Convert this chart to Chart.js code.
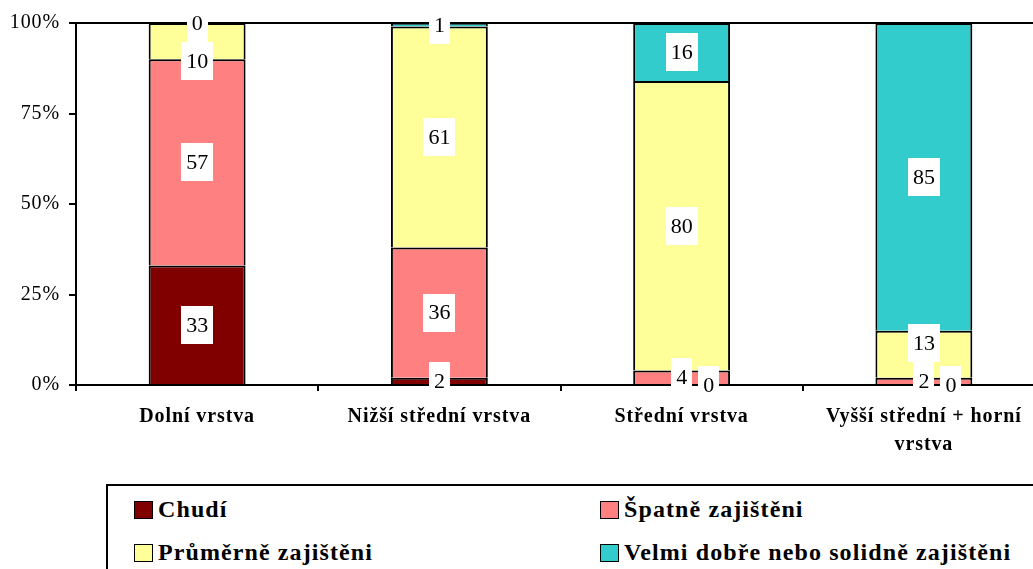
<!DOCTYPE html>
<html>
<head>
<meta charset="utf-8">
<script src="https://cdn.jsdelivr.net/npm/chart.js@4"></script>
<style>
  html, body { margin: 0; padding: 0; background: #fff; overflow: hidden; width: 1033px; height: 569px; }
  #wrap { position: absolute; left: 0; top: 0; width: 1060px; height: 480px; }
  #legend { position: absolute; left: 106px; top: 484px; width: 1000px; height: 120px;
    border: 2px solid #000; box-sizing: border-box; font-family: 'Liberation Serif', serif;
    font-weight: bold; font-size: 24px; letter-spacing: 1.1px; color: #000; }
  .item { position: absolute; display: flex; align-items: center; white-space: nowrap; }
  .sw { width: 17px; height: 16px; border: 1.5px solid #000; margin-right: 5px; }
</style>
</head>
<body>
<div id="wrap"><canvas id="c" width="1060" height="480"></canvas></div>
<div id="legend"></div>
<script>
const categories = ['Dolní vrstva', 'Nižší střední vrstva', 'Střední vrstva', ['Vyšší střední + horní', 'vrstva']];
const seriesNames = ['Chudí', 'Špatně zajištěni', 'Průměrně zajištěni', 'Velmi dobře nebo solidně zajištěni'];
const chudi = [33, 2, 0, 0];
const spatne = [57, 36, 4, 2];
const prumerne = [10, 61, 80, 13];
const velmi = [0, 1, 16, 85];
const yTicks = [0, 25, 50, 75, 100];
const colors = ['#800000', '#FF8080', '#FFFF99', '#33CCCC'];

const FONT = "'Liberation Serif', serif";
const seriesValues = [chudi, spatne, prumerne, velmi];
Chart.defaults.font.family = FONT;

const spacingPlugin = {
  id: 'spacing',
  beforeDraw(chart) { chart.ctx.letterSpacing = '0.9px'; },
  afterDraw(chart) { chart.ctx.letterSpacing = '0px'; }
};

const labelPlugin = {
  id: 'boxLabels',
  afterDatasetsDraw(chart) {
    const ctx = chart.ctx;
    ctx.save();
    ctx.letterSpacing = '0px';
    ctx.font = '22px ' + FONT;
    ctx.textAlign = 'center';
    ctx.textBaseline = 'middle';
    const H = 38;
    for (let i = 0; i < categories.length; i++) {
      const labs = [];
      chart.data.datasets.forEach((ds, d) => {
        const el = chart.getDatasetMeta(d).data[i];
        const txt = String(ds.data[i]);
        const w = ctx.measureText(txt).width + 10;
        labs.push({ x: el.x, y: (el.y + el.base) / 2, w, v: ds.data[i], txt });
      });
      const ov = (a, b) => Math.abs(a.y - b.y) < H && Math.abs(a.x - b.x) < (a.w + b.w) / 2;
      for (let k = 0; k < labs.length - 1; k++) {
        const a = labs[k], b = labs[k + 1];
        if (!ov(a, b)) continue;
        if (a.v === 0) {
          a.x = b.x + b.w / 2 + a.w / 2 + 6;
        } else if (b.v === 0) {
          a.y = b.y + H;
        } else {
          b.y = a.y - H;
        }
      }
      labs.forEach(l => {
        ctx.fillStyle = '#fff';
        ctx.fillRect(Math.round(l.x - l.w / 2), Math.round(l.y - H / 2), Math.round(l.w), H);
        ctx.fillStyle = '#000';
        ctx.fillText(l.txt, l.x, l.y + 1);
      });
    }
    ctx.restore();
  }
};

new Chart(document.getElementById('c'), {
  type: 'bar',
  data: {
    labels: categories,
    datasets: seriesNames.map((n, d) => ({
      label: n,
      data: seriesValues[d],
      backgroundColor: colors[d],
      borderColor: '#000',
      borderWidth: c => (c.raw === 0 ? 0 : 2),
      borderSkipped: 'start',
      categoryPercentage: 1,
      barPercentage: 0.4
    }))
  },
  options: {
    responsive: false,
    animation: false,
    devicePixelRatio: 1,
    layout: { padding: { top: 23, right: 15, left: 0, bottom: 0 } },
    plugins: { legend: { display: false }, tooltip: { enabled: false } },
    scales: {
      x: {
        stacked: true,
        afterFit(s) { s.height = 95; },
        grid: { display: true, offset: true, drawOnChartArea: false, drawTicks: true, tickLength: 6, color: '#000', lineWidth: 2 },
        border: { display: true, color: '#000', width: 2 },
        ticks: { color: '#000', font: { family: FONT, size: 20, weight: 'bold', lineHeight: 1.4 }, padding: 12, maxRotation: 0, autoSkip: false }
      },
      y: {
        stacked: true,
        min: 0, max: 100,
        afterFit(s) { s.width = 76; },
        afterBuildTicks(s) { s.ticks = yTicks.map(v => ({ value: v })); },
        grid: {
          color: c => (c.tick && c.tick.value === 100) ? '#000' : 'rgba(0,0,0,0)',
          tickColor: '#000', lineWidth: 2, tickLength: 7, drawTicks: true
        },
        border: { display: true, color: '#000', width: 2 },
        ticks: { color: '#000', font: { family: FONT, size: 20 }, padding: 9, callback: v => v + '%' }
      }
    }
  },
  plugins: [spacingPlugin, labelPlugin]
});

const leg = document.getElementById('legend');
const pos = [[26, 10], [492, 10], [26, 53], [492, 53]];
seriesNames.forEach((n, d) => {
  const it = document.createElement('div');
  it.className = 'item';
  it.style.left = pos[d][0] + 'px';
  it.style.top = pos[d][1] + 'px';
  const sw = document.createElement('div');
  sw.className = 'sw';
  sw.style.background = colors[d];
  const t = document.createElement('span');
  t.textContent = n;
  it.appendChild(sw); it.appendChild(t);
  leg.appendChild(it);
});
</script>
</body>
</html>
